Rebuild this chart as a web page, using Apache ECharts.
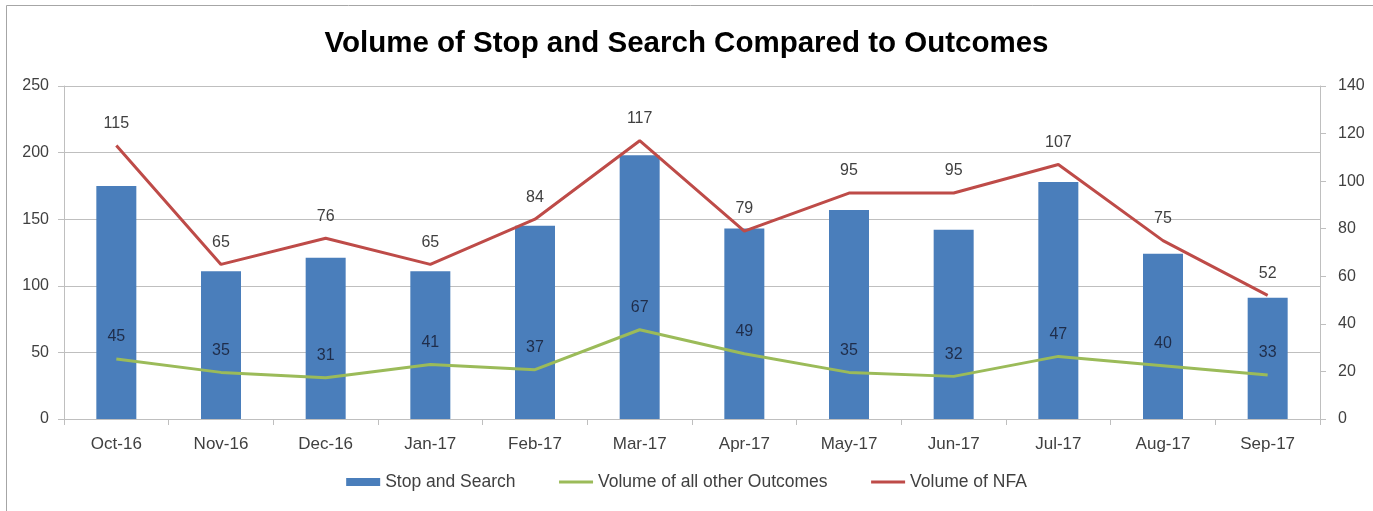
<!DOCTYPE html>
<html>
<head>
<meta charset="utf-8">
<style>
  html, body { margin: 0; padding: 0; background: #ffffff; }
  #chart { width: 1373px; height: 511px; }
</style>
<script src="https://cdn.jsdelivr.net/npm/echarts@6/dist/echarts.min.js"></script>
</head>
<body>
<div id="chart"></div>
<script>
// Monthly figures, Oct 2016 – Sep 2017
const months = ['Oct-16', 'Nov-16', 'Dec-16', 'Jan-17', 'Feb-17', 'Mar-17',
                'Apr-17', 'May-17', 'Jun-17', 'Jul-17', 'Aug-17', 'Sep-17'];
const stopAndSearch = [175, 111, 121, 111, 145, 198, 143, 157, 142, 178, 124, 91];
const otherOutcomes = [45, 35, 31, 41, 37, 67, 49, 35, 32, 47, 40, 33];
const nfaVolume = [115, 65, 76, 65, 84, 117, 79, 95, 95, 107, 75, 52];
const leftTicks = { min: 0, max: 250, interval: 50 };
const rightTicks = { min: 0, max: 140, interval: 20 };

const FONT = '"Liberation Sans", Arial, sans-serif';
const AXIS_GREY = '#bfbfbf';
const TEXT_GREY = '#404040';

const chart = echarts.init(document.getElementById('chart'), null, { renderer: 'canvas' });

// Lines carry a zero-size symbol so that their value labels are drawn.
const hiddenSymbol = { symbol: 'circle', symbolSize: 0, showSymbol: true };

chart.setOption({
  animation: false,
  backgroundColor: '#ffffff',
  textStyle: { fontFamily: FONT },
  title: {
    text: 'Volume of Stop and Search Compared to Outcomes',
    left: 'center',
    top: 24,
    textStyle: { fontFamily: FONT, fontWeight: 'bold', fontSize: 29.5, color: '#000000' }
  },
  graphic: [{
    type: 'rect',
    shape: { x: 6.5, y: 5.5, width: 1400, height: 600 },
    style: { fill: 'none', stroke: '#a6a6a6', lineWidth: 1 },
    silent: true,
    z: 100
  }],
  legend: {
    bottom: 15,
    left: 'center',
    itemGap: 42,
    itemWidth: 34,
    itemHeight: 8,
    textStyle: { fontFamily: FONT, fontSize: 17.5, color: TEXT_GREY },
    data: [
      { name: 'Stop and Search', icon: 'rect' },
      { name: 'Volume of all other Outcomes', itemStyle: { opacity: 0 }, lineStyle: { width: 3 } },
      { name: 'Volume of NFA', itemStyle: { opacity: 0 }, lineStyle: { width: 3 } }
    ]
  },
  grid: { left: 64, right: 53, top: 86, bottom: 92, containLabel: false },
  xAxis: {
    type: 'category',
    data: months,
    boundaryGap: true,
    axisLine: { lineStyle: { color: AXIS_GREY } },
    axisTick: { show: true, alignWithLabel: false, length: 6, lineStyle: { color: AXIS_GREY } },
    axisLabel: { margin: 17, fontSize: 17, color: TEXT_GREY, fontFamily: FONT },
    splitLine: { show: false }
  },
  yAxis: [{
    type: 'value',
    position: 'left',
    min: leftTicks.min, max: leftTicks.max, interval: leftTicks.interval,
    axisLine: { show: true, lineStyle: { color: AXIS_GREY } },
    axisTick: { show: true, length: 6, lineStyle: { color: AXIS_GREY } },
    axisLabel: { margin: 15, fontSize: 16, color: TEXT_GREY, fontFamily: FONT },
    splitLine: { show: true, lineStyle: { color: AXIS_GREY, width: 1 } }
  }, {
    type: 'value',
    position: 'right',
    min: rightTicks.min, max: rightTicks.max, interval: rightTicks.interval,
    axisLine: { show: true, lineStyle: { color: AXIS_GREY } },
    axisTick: { show: true, length: 6, lineStyle: { color: AXIS_GREY } },
    axisLabel: { margin: 18, fontSize: 16, color: TEXT_GREY, fontFamily: FONT },
    splitLine: { show: false }
  }],
  series: [{
    name: 'Stop and Search',
    type: 'bar',
    yAxisIndex: 0,
    data: stopAndSearch,
    barWidth: 40,
    itemStyle: { color: '#4a7ebb' },
    z: 2
  }, Object.assign({
    name: 'Volume of all other Outcomes',
    type: 'line',
    yAxisIndex: 0,
    data: otherOutcomes,
    lineStyle: { color: '#9bbb59', width: 3 },
    itemStyle: { color: '#9bbb59' },
    label: {
      show: true, position: 'top', distance: 14,
      fontSize: 16, color: '#1f2d4a', fontFamily: FONT
    },
    z: 3
  }, hiddenSymbol), Object.assign({
    name: 'Volume of NFA',
    type: 'line',
    yAxisIndex: 1,
    data: nfaVolume,
    lineStyle: { color: '#be4b48', width: 3 },
    itemStyle: { color: '#be4b48' },
    label: {
      show: true, position: 'top', distance: 14,
      fontSize: 16, color: TEXT_GREY, fontFamily: FONT
    },
    z: 4
  }, hiddenSymbol)]
});
</script>
</body>
</html>
